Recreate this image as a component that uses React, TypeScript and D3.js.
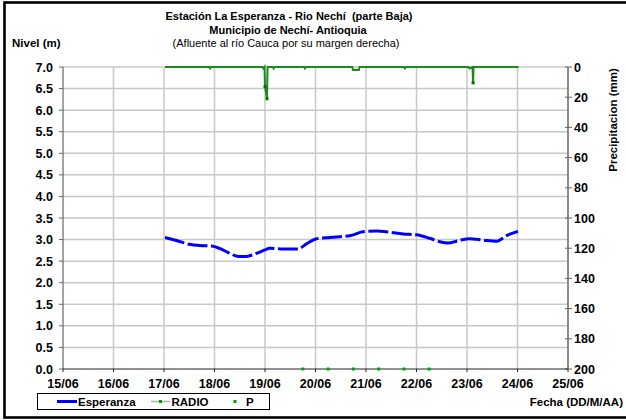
import React from "react";
import * as d3 from "d3";

const dayLabels = ["15/06","16/06","17/06","18/06","19/06","20/06","21/06","22/06","23/06","24/06","25/06"];
const nivelTicks = [0,0.5,1,1.5,2,2.5,3,3.5,4,4.5,5,5.5,6,6.5,7];
const precipTicks = [0,20,40,60,80,100,120,140,160,180,200];

// Esperanza level (m) — day (fractional, June) / value
const espDays = [17.02,17.25,17.5,17.71,17.94,18.11,18.27,18.47,18.63,18.83,19.0,19.09,19.36,19.65,19.82,20.02,20.28,20.68,20.94,21.21,21.47,21.73,22.0,22.26,22.46,22.62,22.85,23.05,23.31,23.58,23.78,24.01];
const espVals = [3.05,2.98,2.89,2.86,2.85,2.79,2.70,2.61,2.61,2.68,2.76,2.80,2.78,2.78,2.90,3.02,3.05,3.09,3.18,3.20,3.17,3.13,3.11,3.03,2.95,2.92,2.98,3.02,2.99,2.96,3.09,3.19];

// RADIO precipitation (mm)
const radioDays = [17.02,17.89,17.91,17.93,18.95,18.97,18.99,19.0,19.04,19.05,19.15,19.17,19.19,19.77,19.79,19.81,20.73,20.74,20.86,20.87,21.75,21.77,21.79,23.03,23.05,23.11,23.12,23.13,24.02];
const radioVals = [0,0,1,0,0,1,0,13,21,0,0,1,0,0,1,0,0,2,2,0,0,1,0,0,1,0,10.5,0,0];

// P (plotted on base line)
const pDays = [19.75,20.25,20.75,21.25,21.75,22.25];
const pVals = [0,0,0,0,0,0];

const FONT = "'Liberation Sans', Arial, sans-serif";

export default function App() {
  const left = 63, right = 568, top = 67, bottom = 369;
  const x = d3.scaleLinear().domain([15, 25]).range([left, right]);
  const yL = d3.scaleLinear().domain([0, 7]).range([bottom, top]);
  const yR = d3.scaleLinear().domain([0, 200]).range([top, bottom]);

  const esp = espDays.map((d, i) => [d, espVals[i]] as [number, number]);
  const radio = radioDays.map((d, i) => [d, radioVals[i]] as [number, number]);

  const espLine = d3.line<[number, number]>().x(d => x(d[0])).y(d => yL(d[1])).curve(d3.curveMonotoneX);
  const radioLine = d3.line<[number, number]>().x(d => x(d[0])).y(d => yR(d[1]));

  const days = d3.range(15, 26);

  return (
    <svg width={626} height={420} style={{ position: "absolute", left: 0, top: 0, background: "#fff" }} fontFamily={FONT}>
      <rect x={0} y={0} width={626} height={420} fill="#fff" />
      <rect x={4.5} y={2.5} width={640} height={415} fill="none" stroke="#000" strokeWidth={2.6} />

      {/* titles */}
      <text x={289} y={20} textAnchor="middle" fontSize={11} fontWeight="bold" style={{ whiteSpace: "pre" }}>{"Estación La Esperanza - Rio Nechí  (parte Baja)"}</text>
      <text x={288} y={33.5} textAnchor="middle" fontSize={11} fontWeight="bold">Municipio de Nechí- Antioquia</text>
      <text x={286} y={46.5} textAnchor="middle" fontSize={11}>(Afluente al río Cauca por su margen derecha)</text>
      <text x={12} y={47} fontSize={11.5} fontWeight="bold">Nivel (m)</text>

      {/* gridlines */}
      {nivelTicks.filter(t => t > 0).map(t => (
        <line key={"h" + t} x1={left} x2={right} y1={yL(t)} y2={yL(t)} stroke="#c8c8c8" strokeWidth={1.5} />
      ))}
      {days.filter(d => d > 15 && d < 25).map(d => (
        <line key={"v" + d} x1={x(d)} x2={x(d)} y1={top} y2={bottom} stroke="#c8c8c8" strokeWidth={1.5} />
      ))}

      {/* left axis */}
      <line x1={left} x2={left} y1={top} y2={bottom} stroke="#666" strokeWidth={1.2} />
      {nivelTicks.map(t => (
        <g key={"lt" + t}>
          <line x1={left - 4} x2={left} y1={yL(t)} y2={yL(t)} stroke="#666" strokeWidth={1} />
          <text x={53} y={yL(t) + 4.5} textAnchor="end" fontSize={12.5} fontWeight="bold">{t.toFixed(1)}</text>
        </g>
      ))}

      {/* right axis */}
      <line x1={right} x2={right} y1={top} y2={bottom} stroke="#666" strokeWidth={1.5} />
      {precipTicks.map(t => (
        <g key={"rt" + t}>
          <line x1={right - 3} x2={right + 4} y1={yR(t)} y2={yR(t)} stroke="#666" strokeWidth={1} />
          <text x={574} y={yR(t) + 4.5} fontSize={12.5} fontWeight="bold">{t}</text>
        </g>
      ))}
      <text transform={`translate(617,120) rotate(-90)`} textAnchor="middle" fontSize={11.5} fontWeight="bold">Precipitacion (mm)</text>

      {/* bottom axis */}
      <line x1={left} x2={right} y1={bottom} y2={bottom} stroke="#222" strokeWidth={1.2} />
      {days.map((d, i) => (
        <g key={"bt" + d}>
          <line x1={x(d)} x2={x(d)} y1={bottom} y2={bottom + 3} stroke="#222" strokeWidth={1} />
          <text x={x(d)} y={388} textAnchor="middle" fontSize={12.5} fontWeight="bold">{dayLabels[i]}</text>
        </g>
      ))}
      <text x={623} y={406} textAnchor="end" fontSize={11.5} fontWeight="bold">Fecha (DD/M/AA)</text>

      {/* RADIO precipitation */}
      <path d={radioLine(radio) || ""} fill="none" stroke="#1a8a1a" strokeWidth={2} />
      {radio.filter(d => d[1] > 5).map((d, i) => (
        <rect key={"rm" + i} x={x(d[0]) - 1.5} y={yR(d[1]) - 1.5} width={3} height={3} fill="#0a6a0a" />
      ))}

      {/* Esperanza */}
      <path d={espLine(esp) || ""} fill="none" stroke="#0000ff" strokeWidth={3} strokeDasharray="20 3.5" />

      {/* P */}
      {pDays.map((d, i) => (
        <rect key={"p" + i} x={x(d) - 1.5} y={yL(pVals[i]) - 1.5} width={3} height={3} fill="#00a000" />
      ))}

      {/* legend */}
      <rect x={37.5} y={393.5} width={232} height={16} fill="#fff" stroke="#000" strokeWidth={1} />
      <line x1={57} x2={77} y1={401.5} y2={401.5} stroke="#0000ff" strokeWidth={3} />
      <text x={78} y={405.5} fontSize={11.5} fontWeight="bold">Esperanza</text>
      <line x1={151} x2={170} y1={401.5} y2={401.5} stroke="#b0b0b0" strokeWidth={1.5} />
      <rect x={159} y={400} width={3} height={3} fill="#00a000" />
      <text x={171.5} y={405.5} fontSize={11.5} fontWeight="bold">RADIO</text>
      <rect x={233.5} y={400} width={3} height={3} fill="#00a000" />
      <text x={246} y={405.5} fontSize={11.5} fontWeight="bold">P</text>
    </svg>
  );
}
